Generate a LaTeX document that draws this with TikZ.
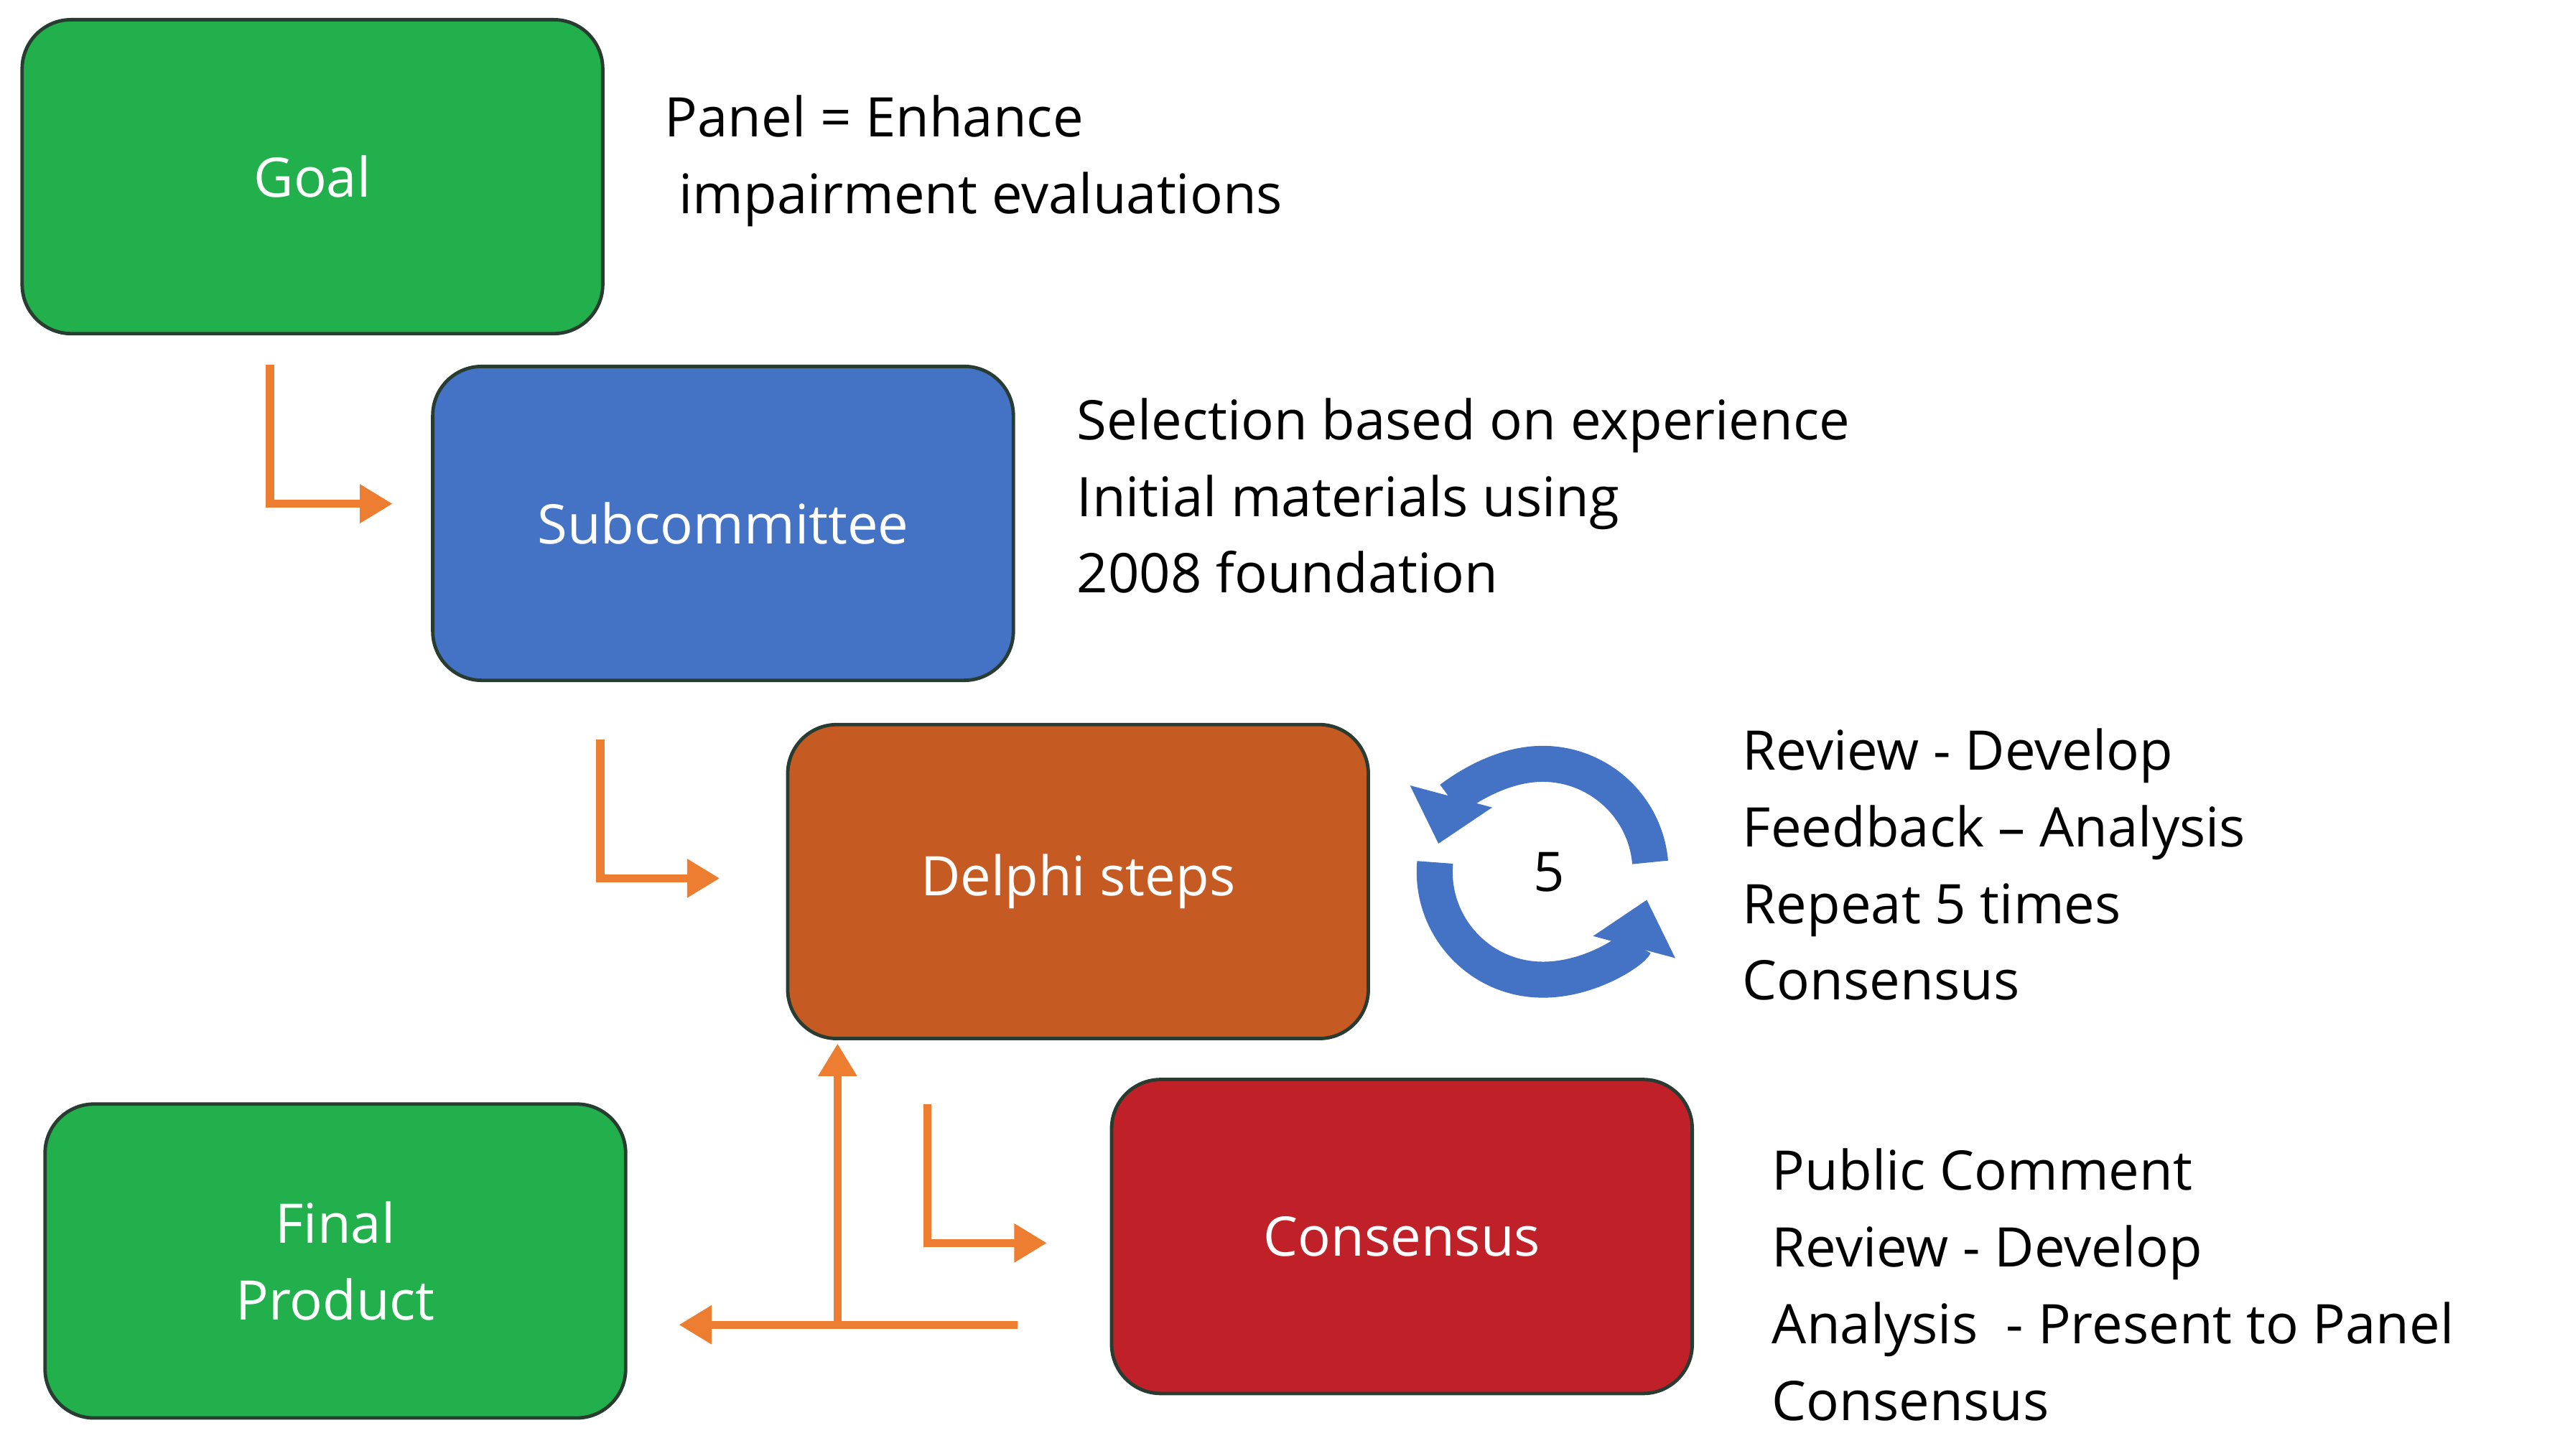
\documentclass[tikz,border=0pt]{standalone}
\usepackage{fontspec}
\setmainfont{Open Sans}
\usetikzlibrary{arrows.meta}
\definecolor{cgreen}{RGB}{33,176,76}
\definecolor{cblue}{RGB}{68,114,196}
\definecolor{corange}{RGB}{197,90,34}
\definecolor{cred}{RGB}{192,32,40}
\definecolor{carrow}{RGB}{237,125,49}
\definecolor{cedge}{RGB}{40,60,50}
\begin{document}
\begin{tikzpicture}[x=0.02cm,y=-0.02cm,
  box/.style={draw=cedge,line width=1.2pt,rounded corners=0.6cm,minimum width=7.1cm,minimum height=3.84cm,text=white,font=\fontsize{19}{26.7}\selectfont,align=center},
  note/.style={anchor=north west,inner sep=0,align=left,font=\fontsize{19}{26.7}\selectfont},
  flow/.style={draw=carrow,line width=0.1cm,-{Triangle[length=0.4cm,width=0.45cm]}},
  cyc/.style={draw=cblue,line width=0.44cm,-{Triangle[length=0.6cm,width=1.0cm]}}]
\useasboundingbox (0,0) rectangle (1568,890);
\node[box,fill=cgreen] (goal) at (191,108) {Goal};
\node[box,fill=cblue] (sub) at (442,320) {Subcommittee};
\node[box,fill=corange] (del) at (659,539) {Delphi steps};
\node[box,fill=cred] (con) at (857,756) {Consensus};
\node[box,fill=cgreen] (fin) at (205,771) {Final\\Product};
\node[note] (t1) at (406,58) {Panel = Enhance\\\ impairment evaluations};
\node[note] (t2) at (658,243) {Selection based on experience\\Initial materials using\\2008 foundation};
\node[note] (t3) at (1065,445) {Review - Develop\\Feedback -- Analysis\\Repeat 5 times\\Consensus};
\node[note] (t4) at (1083,702) {Public Comment\\Review - Develop\\Analysis\ \ - Present to Panel\\Consensus};
\coordinate (a1) at (165,223); \coordinate (b1) at (240,308);
\coordinate (a2) at (367,452); \coordinate (b2) at (440,537);
\coordinate (a3) at (567,675); \coordinate (b3) at (640,760);
\draw[flow] (a1) |- (b1);
\draw[flow] (a2) |- (b2);
\draw[flow] (a3) |- (b3);
\coordinate (h1) at (622,810); \coordinate (h2) at (415,810);
\coordinate (v1) at (512,810); \coordinate (v2) at (512,638);
\draw[flow] (h1) -- (h2);
\draw[flow] (v1) -- (v2);
\coordinate (cc) at (943,533);
\draw[cyc] ([shift={(185:66)}]cc) arc[start angle=-185,end angle=-15,radius=1.32cm];
\draw[cyc] ([shift={(-5:66)}]cc) arc[start angle=5,end angle=165,radius=1.32cm];
\node[font=\fontsize{19}{26.7}\selectfont] (five) at (947,533) {5};
\end{tikzpicture}
\end{document}
